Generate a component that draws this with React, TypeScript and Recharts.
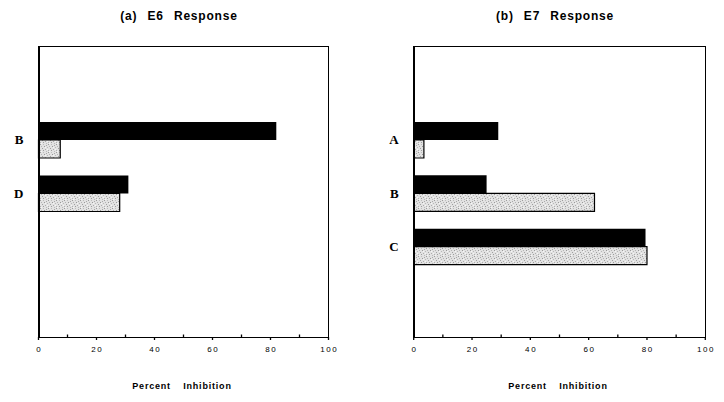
import { BarChart, Bar, XAxis, YAxis } from 'recharts';

// E6 response (panel a)
const e6Groups = ['B', 'D'];
const e6Dark = [82, 31];
const e6Light = [7.5, 28];

// E7 response (panel b)
const e7Groups = ['A', 'B', 'C'];
const e7Dark = [29, 25, 79.5];
const e7Light = [3.5, 62, 80];

const xTicks = [0, 10, 20, 30, 40, 50, 60, 70, 80, 90, 100];

const sans = '"Liberation Sans", Arial, sans-serif';
const serif = '"Liberation Serif", "Times New Roman", serif';

const TICK_MARGIN = 6;

function Stipple({ id }: { id: string }) {
  const dots = [
    [0, 0, '#9c9c9c'], [3, 0, '#bdbdbd'], [6, 1, '#a8a8a8'], [1, 2, '#b4b4b4'],
    [4, 2, '#999'], [7, 3, '#b8b8b8'], [2, 4, '#a0a0a0'], [5, 5, '#acacac'],
    [0, 6, '#b0b0b0'], [3, 6, '#9e9e9e'], [6, 7, '#bababa'], [1, 7, '#f6f6f6'],
    [5, 3, '#f6f6f6'], [7, 5, '#f6f6f6'],
  ] as const;
  return (
    <defs>
      <pattern id={id} width="8" height="8" patternUnits="userSpaceOnUse">
        <rect width="8" height="8" fill="#e2e2e2" />
        {dots.map(([x, y, c], i) => (
          <rect key={i} x={x} y={y} width="1" height="1" fill={c} />
        ))}
      </pattern>
    </defs>
  );
}

// tick: major ticks point down with a label, minor ticks point up into the plot
function XTick(props: any) {
  const { x, y, payload } = props;
  const v = payload.value as number;
  const axisY = y - TICK_MARGIN - 3;
  const major = v % 20 === 0;
  return (
    <g>
      <line
        x1={x}
        x2={x}
        y1={axisY}
        y2={major ? axisY + 3 : axisY - 2.5}
        stroke="#000"
        strokeWidth={1.3}
      />
      {major && (
        <text
          x={x + 0.8}
          y={y}
          dy="0.71em"
          textAnchor="middle"
          fill="#000"
          fontSize={8}
          fontFamily={sans}
          letterSpacing={1.6}
        >
          {v}
        </text>
      )}
    </g>
  );
}

function Panel({
  id,
  groups,
  dark,
  light,
  left,
  right,
  bottomPad,
}: {
  id: string;
  groups: string[];
  dark: number[];
  light: number[];
  left: number;
  right: number;
  bottomPad: number;
}) {
  const data = groups.map((g, i) => ({ group: g, dark: dark[i], light: light[i] }));
  return (
    <BarChart
      width={362}
      height={402}
      data={data}
      layout="vertical"
      margin={{ top: 47, right: right, bottom: 0, left: 0 }}
      barGap={0}
      barSize={18}
      barCategoryGap={8}
    >
      <Stipple id={id} />
      <XAxis
        type="number"
        domain={[0, 100]}
        ticks={xTicks}
        interval={0}
        height={65}
        axisLine={false}
        tickLine={false}
        tickSize={3}
        tickMargin={TICK_MARGIN}
        tick={<XTick />}
      />
      <YAxis
        type="category"
        dataKey="group"
        width={left}
        padding={{ top: 66, bottom: bottomPad }}
        axisLine={false}
        tickLine={false}
        tickSize={0}
        tickMargin={15}
        tick={{ fill: '#000', stroke: 'none', fontSize: 13, fontWeight: 'bold', fontFamily: serif }}
      />
      <Bar dataKey="dark" fill="#000" isAnimationActive={false} />
      <Bar dataKey="light" fill={`url(#${id})`} stroke="#000" strokeWidth={1.2} isAnimationActive={false} />
    </BarChart>
  );
}

export default function App() {
  const titleStyle: React.CSSProperties = {
    position: 'absolute',
    top: 10,
    width: 362,
    textAlign: 'center',
    fontFamily: sans,
    fontWeight: 'bold',
    fontSize: 12,
    lineHeight: '12px',
    letterSpacing: 0.8,
    wordSpacing: 6,
  };
  const axisTitle: React.CSSProperties = {
    position: 'absolute',
    top: 382,
    width: 290,
    textAlign: 'center',
    fontFamily: sans,
    fontWeight: 'bold',
    fontSize: 9,
    lineHeight: '9px',
    letterSpacing: 0.8,
    wordSpacing: 9,
  };
  // plot frame around each panel's box
  const frame: React.CSSProperties = {
    position: 'absolute',
    top: 46.2,
    height: 291.6,
    border: '1.6px solid #000',
    borderLeftWidth: 2,
    boxSizing: 'border-box',
    pointerEvents: 'none',
  };
  return (
    <div style={{ position: 'absolute', left: 0, top: 0, width: 724, height: 402, background: '#fff' }}>
      <div style={{ position: 'absolute', left: 0, top: 0 }}>
        <Panel id="stipA" groups={e6Groups} dark={e6Dark} light={e6Light} left={38.5} right={33.5} bottomPad={117} />
      </div>
      <div style={{ position: 'absolute', left: 362, top: 0 }}>
        <Panel id="stipB" groups={e7Groups} dark={e7Dark} light={e7Light} left={51.7} right={18.7} bottomPad={64} />
      </div>
      <div style={{ ...frame, left: 37.5, width: 291.8 }} />
      <div style={{ ...frame, left: 412.7, width: 293.4 }} />
      <div style={{ ...titleStyle, left: -2 }}>(a) E6 Response</div>
      <div style={{ ...titleStyle, left: 374 }}>(b) E7 Response</div>
      <div style={{ ...axisTitle, left: 37 }}>Percent Inhibition</div>
      <div style={{ ...axisTitle, left: 413 }}>Percent Inhibition</div>
    </div>
  );
}
